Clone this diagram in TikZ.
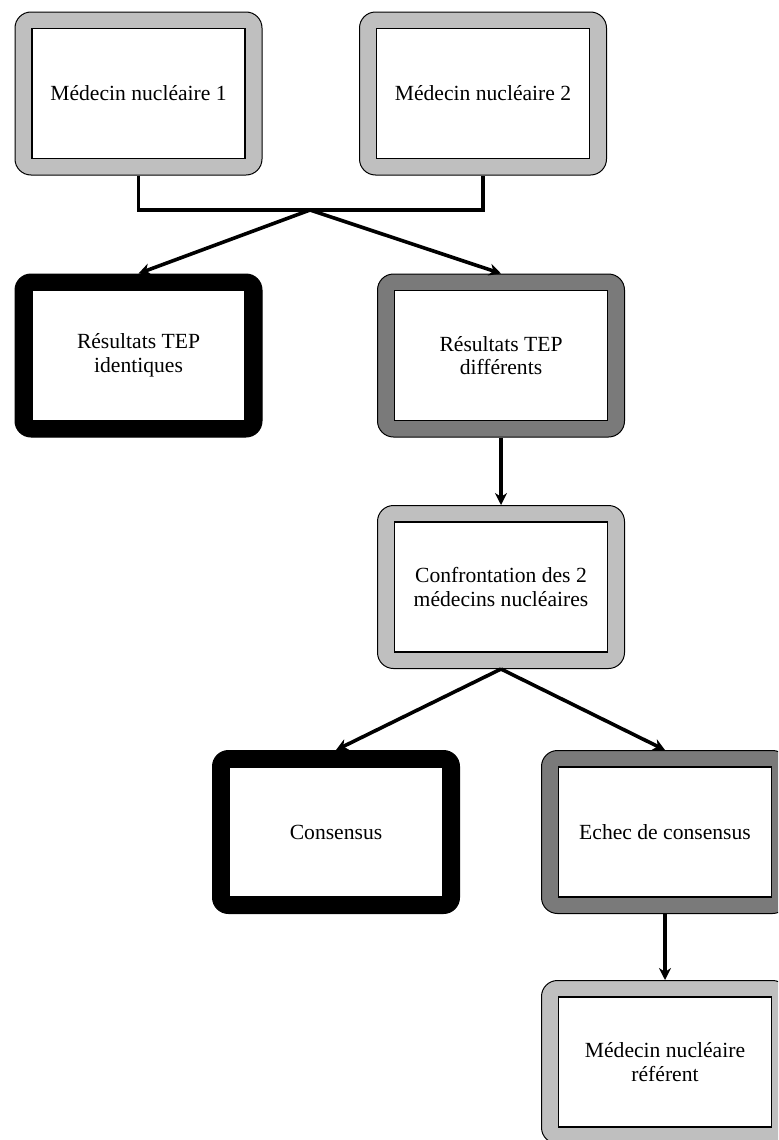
\documentclass[tikz,border=0pt]{standalone}
\usepackage{fontspec}
\setmainfont{Liberation Serif}
\usetikzlibrary{arrows.meta}

\begin{document}
\begin{tikzpicture}[
    x=0.5pt, y=-0.5pt,
    frame/.style={rectangle, rounded corners=8pt, draw=black, line width=0.5pt, minimum width=123.5pt, minimum height=81.5pt},
    lightframe/.style={frame, fill=black!25},
    darkframe/.style={frame, fill=black!52},
    blackframe/.style={frame, fill=black},
    card/.style={rectangle, draw=black, line width=0.6pt, fill=white, minimum width=106.5pt, minimum height=65pt, align=center, font=\fontsize{10.8}{11.8}\selectfont},
    link/.style={line width=1.8pt},
    arrow/.style={line width=1.8pt, -{Stealth[length=6pt, width=6pt]}}
]
\useasboundingbox (0,0) rectangle (778,1140);
\clip (0,0) rectangle (778,1140);

% outer frames
\node (doc1) [lightframe] at (138.5,93.5) {};
\node (doc2) [lightframe] at (483,93.5) {};
\node (same) [blackframe] at (138.5,355.5) {};
\node (diff) [darkframe] at (501,355.5) {};
\node (meet) [lightframe] at (501,587) {};
\node (agree) [blackframe] at (336,832) {};
\node (fail) [darkframe] at (665,832) {};
\node (ref) [lightframe] at (665,1062) {};

% inner cards with text
\node [card] at (doc1) {Médecin nucléaire 1};
\node [card] at (doc2) {Médecin nucléaire 2};
\node [card] at (same) {Résultats TEP\\identiques};
\node [card] at (diff) {Résultats TEP\\différents};
\node [card] at (meet) {Confrontation des 2\\médecins nucléaires};
\node [card] at (agree) {Consensus};
\node [card] at (fail) {Echec de consensus};
\node [card] at (ref) {Médecin nucléaire\\référent};

\coordinate (split) at (310,210);

\draw [link] (doc1.south) |- (split) -| (doc2.south);
\draw [arrow] (split) -- (same.north);
\draw [arrow] (split) -- (diff.north);
\draw [arrow] (diff) -- (meet);
\draw [arrow] (meet.south) -- (agree.north);
\draw [arrow] (meet.south) -- (fail.north);
\draw [arrow] (fail) -- (ref);

\end{tikzpicture}
\end{document}
